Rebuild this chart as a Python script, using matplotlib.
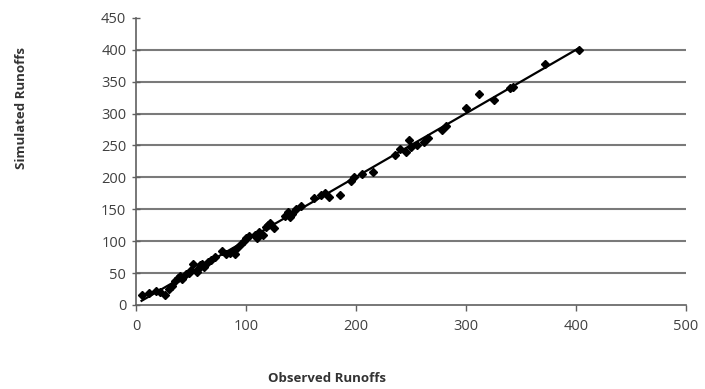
import numpy as np
import matplotlib
matplotlib.use("Agg")
import matplotlib.pyplot as plt

# === Data ===
observed = [5, 12, 18, 22, 26, 30, 33, 35, 38, 40, 42, 45, 48, 50, 52, 55, 57, 58,
            60, 62, 65, 68, 72, 78, 82, 85, 88, 90, 92, 95, 98, 100, 103, 108, 110,
            112, 115, 118, 120, 122, 125, 135, 138, 140, 142, 145, 150, 162, 168,
            172, 175, 185, 195, 198, 205, 215, 235, 240, 245, 248, 250, 255, 262,
            265, 278, 282, 300, 312, 325, 340, 343, 372, 403]
simulated = [15, 18, 22, 20, 16, 25, 30, 38, 42, 45, 40, 48, 50, 55, 65, 52, 58, 62,
             65, 60, 68, 70, 75, 85, 80, 82, 85, 80, 90, 95, 100, 105, 108, 110, 105,
             115, 110, 122, 125, 128, 120, 140, 145, 138, 142, 150, 155, 168, 172,
             175, 170, 172, 195, 200, 205, 208, 235, 245, 240, 258, 248, 250, 255,
             262, 275, 280, 308, 330, 322, 340, 342, 378, 400]
x_ticks = [0, 100, 200, 300, 400, 500]
y_ticks = [0, 50, 100, 150, 200, 250, 300, 350, 400, 450]

plt.rcParams['font.family'] = ['Open Sans', 'DejaVu Sans']

fig = plt.figure(figsize=(7.05, 3.89), dpi=100)
ax = fig.add_axes([0.193, 0.216, 0.780, 0.738])

# regression line through the data
slope, icpt = np.polyfit(observed, simulated, 1)
xl = np.array([min(observed), max(observed)])
ax.plot(xl, slope * xl + icpt, color='black', lw=1.6, zorder=3)

ax.plot(observed, simulated, linestyle='none', marker='D', markersize=4.5,
        color='black', zorder=4)

ax.set_xlim(0, 500)
ax.set_ylim(0, 450)
ax.set_xticks(x_ticks)
ax.set_yticks(y_ticks)

ax.yaxis.grid(True, color='#7a7a7a', lw=1.5)
ax.set_axisbelow(True)
ax.get_ygridlines()[-1].set_visible(False)
ax.get_ygridlines()[0].set_visible(False)

for s in ['top', 'right']:
    ax.spines[s].set_visible(False)
for s in ['left', 'bottom']:
    ax.spines[s].set_color('#606060')
    ax.spines[s].set_linewidth(1.2)

ax.tick_params(axis='y', direction='inout', length=6, width=1, color='#606060',
               labelsize=10.5, labelcolor='#404040', pad=4)
ax.tick_params(axis='x', direction='out', length=4, width=1, color='#606060',
               labelsize=10.5, labelcolor='#404040', pad=6)

fig.text(0.031, 0.722, 'Simulated Runoffs', rotation=90, ha='center', va='center',
         fontsize=9.5, fontweight='bold', color='#333333')
fig.text(0.464, 0.028, 'Observed Runoffs', ha='center', va='center',
         fontsize=9.5, fontweight='bold', color='#333333')

fig.savefig('out.png', dpi=100)
